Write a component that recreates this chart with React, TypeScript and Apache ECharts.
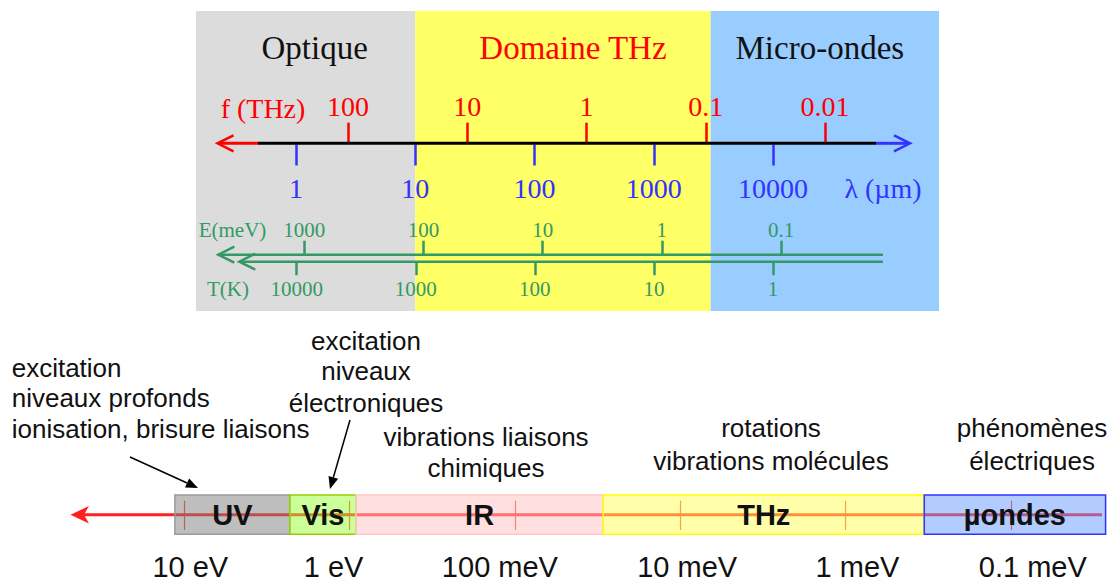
import React, { useEffect, useRef } from 'react';
import * as echarts from 'echarts';

// ---------- DATA ----------
// Top scales (tick values and their labels)
const FREQ_THZ = [100, 10, 1, 0.1, 0.01];
const FREQ_LABELS = ['100', '10', '1', '0.1', '0.01'];
const WAVELENGTH_UM = [1, 10, 100, 1000, 10000];
const WAVELENGTH_LABELS = ['1', '10', '100', '1000', '10000'];
const ENERGY_MEV = [1000, 100, 10, 1, 0.1];
const ENERGY_LABELS = ['1000', '100', '10', '1', '0.1'];
const TEMP_K = [10000, 1000, 100, 10, 1];
const TEMP_LABELS = ['10000', '1000', '100', '10', '1'];

// Top domains, bounded in wavelength (µm)
const DOMAIN_NAMES = ['Optique', 'Domaine THz', 'Micro-ondes'];
const DOMAIN_FROM_UM = [0.145, 10, 3000];
const DOMAIN_TO_UM = [10, 3000, 246600];

// Bottom scale: photon energy (meV)
const PHOTON_MEV = [10000, 1000, 100, 10, 1, 0.1];
const PHOTON_LABELS = ['10 eV', '1 eV', '100 meV', '10 meV', '1 meV', '0.1 meV'];

// Bottom spectral bands, bounded in photon energy (meV)
const BAND_NAMES = ['UV', 'Vis', 'IR', 'THz', 'µondes'];
const BAND_FROM_MEV = [11400, 2300, 915, 29.2, 0.334];
const BAND_TO_MEV = [2300, 915, 29.2, 0.334, 0.0267];

// Annotation texts
const NOTE_UV = ['excitation', 'niveaux profonds', 'ionisation, brisure liaisons'];
const NOTE_VIS = ['excitation', 'niveaux', 'électroniques'];
const NOTE_IR = ['vibrations liaisons', 'chimiques'];
const NOTE_THZ = ['rotations', 'vibrations molécules'];
const NOTE_MW = ['phénomènes', 'électriques'];

// ---------- STYLE ----------
const SERIF = '"Liberation Serif", "Times New Roman", serif';
const SANS = '"Liberation Sans", Arial, sans-serif';
const RED = '#ff0000';
const BLUE = '#3333ff';
const GREEN = '#339966';
const DOMAIN_FILL = ['#dcdcdc', '#ffff66', '#99ccff'];
const DOMAIN_TEXT = ['#111111', '#ff0000', '#111111'];
const DOMAIN_DX = [9, 10, -5];
const BAND_FILL = [
  'rgba(125,125,125,0.5)',
  'rgba(153,255,51,0.5)',
  'rgba(255,192,192,0.5)',
  'rgba(255,255,85,0.5)',
  'rgba(102,153,255,0.5)',
];
const BAND_STROKE = ['#9a9a9a', '#99cc00', '#ffc8c8', '#ffff00', '#3333ff'];
const PHOTON_NUDGE = [6, -16, -15, 7, 12, 22];

function labelFor(ticks: number[], labels: string[]) {
  return (v: number) => {
    let best = 0;
    let err = Infinity;
    ticks.forEach((t, i) => {
      const e = Math.abs(Math.log(v / t));
      if (e < err) {
        err = e;
        best = i;
      }
    });
    return err < 0.05 ? labels[best] : '';
  };
}

function arrow(x0: number, y0: number, tx: number, ty: number, z: number) {
  const dx = tx - x0;
  const dy = ty - y0;
  const len = Math.sqrt(dx * dx + dy * dy);
  const ux = dx / len;
  const uy = dy / len;
  const bx = tx - 12 * ux;
  const by = ty - 12 * uy;
  const px = -uy;
  const py = ux;
  return [
    { type: 'line', z, shape: { x1: x0, y1: y0, x2: bx, y2: by }, style: { stroke: '#000', lineWidth: 1.5 } },
    {
      type: 'polygon',
      z,
      shape: { points: [[tx, ty], [bx + 5 * px, by + 5 * py], [bx - 5 * px, by - 5 * py]] },
      style: { fill: '#000' },
    },
  ];
}

function textLines(lines: string[], x: number, ys: number[], align: string, z: number) {
  return lines.map((t, i) => ({
    type: 'text',
    z,
    x,
    y: ys[i],
    style: { text: t, font: `26px ${SANS}`, fill: '#111', align, verticalAlign: 'middle' },
  }));
}

function chevron(tx: number, ty: number, dir: number, color: string, z: number) {
  return {
    type: 'polyline',
    z,
    shape: { points: [[tx - dir * 16, ty - 8], [tx, ty], [tx - dir * 16, ty + 8]] },
    style: { stroke: color, lineWidth: 2.5, fill: null },
  };
}

function hLine(x1: number, x2: number, y: number, color: string, w: number, z: number) {
  return { type: 'line', z, shape: { x1, y1: y, x2, y2: y }, style: { stroke: color, lineWidth: w } };
}

function scaleAxis(
  gridIndex: number,
  min: number,
  max: number,
  inverse: boolean,
  position: string,
  color: string,
  tickLen: number,
  font: number,
  margin: number,
  ticks: number[],
  labels: string[],
) {
  return {
    type: 'log',
    logBase: 10,
    gridIndex,
    min,
    max,
    inverse,
    position,
    z: 5,
    axisLine: { show: false, onZero: false },
    splitLine: { show: false },
    minorTick: { show: false },
    axisTick: { show: true, inside: false, length: tickLen, lineStyle: { color, width: 2.5 } },
    axisLabel: {
      show: true,
      margin,
      color,
      fontFamily: SERIF,
      fontSize: font,
      showMinLabel: true,
      showMaxLabel: true,
      formatter: labelFor(ticks, labels),
    },
  };
}

export default function App() {
  const ref = useRef<HTMLDivElement>(null);

  useEffect(() => {
    if (!ref.current) return;
    const chart = echarts.init(ref.current, undefined, { renderer: 'svg' });

    const rich: any = {};
    PHOTON_NUDGE.forEach((n, i) => {
      rich['n' + i] = {
        fontFamily: SANS,
        fontSize: 29,
        color: '#111',
        padding: n > 0 ? [0, 0, 0, 2 * n] : [0, -2 * n, 0, 0],
      };
    });
    const photonLabel = labelFor(PHOTON_MEV, PHOTON_LABELS);

    const gridBase = { containLabel: false, outerBoundsMode: 'none', show: false };
    const grids = [
      { left: 296, width: 477, top: 11, height: 300 },
      { left: 348, width: 477, top: 143.3, height: 10 },
      { left: 296, width: 477, top: 134.5, height: 10 },
      { left: 304.3, width: 476.7, top: 254.7, height: 10 },
      { left: 296.7, width: 476.3, top: 251.7, height: 10 },
      { left: 184.3, width: 826.5, top: 495, height: 39.3 },
      { left: 184.3, width: 826.5, top: 500.7, height: 29.3 },
    ].map((g) => ({ ...gridBase, ...g }));

    const yAxes = grids.map((_, i) => ({ type: 'value', gridIndex: i, min: 0, max: 1, show: false }));

    const xAxes: any[] = [
      { type: 'log', logBase: 10, gridIndex: 0, min: 1, max: 10000, show: false },
      scaleAxis(1, 0.01, 100, true, 'top', RED, 20.6, 28, 23, FREQ_THZ, FREQ_LABELS),
      scaleAxis(2, 1, 10000, false, 'bottom', BLUE, 21, 28, 30, WAVELENGTH_UM, WAVELENGTH_LABELS),
      scaleAxis(3, 0.1, 1000, true, 'top', GREEN, 14, 21, 14, ENERGY_MEV, ENERGY_LABELS),
      scaleAxis(4, 1, 10000, true, 'bottom', GREEN, 13.5, 21, 17, TEMP_K, TEMP_LABELS),
      { type: 'log', logBase: 10, gridIndex: 5, min: 0.1, max: 10000, inverse: true, show: false },
      {
        type: 'log',
        logBase: 10,
        gridIndex: 6,
        min: 0.1,
        max: 10000,
        inverse: true,
        position: 'bottom',
        z: 2,
        axisLine: { show: false, onZero: false },
        axisTick: { show: false },
        minorTick: { show: false },
        splitLine: { show: true, lineStyle: { color: 'rgba(255,40,40,0.9)', width: 1.2 } },
        axisLabel: {
          show: true,
          margin: 22,
          showMinLabel: true,
          showMaxLabel: true,
          fontFamily: SANS,
          fontSize: 29,
          color: '#111',
          rich,
          formatter: (v: number) => {
            const t = photonLabel(v);
            const i = PHOTON_LABELS.indexOf(t);
            return i >= 0 ? `{n${i}|${t}}` : '';
          },
        },
      },
    ];

    const series: any[] = [
      {
        type: 'custom',
        xAxisIndex: 0,
        yAxisIndex: 0,
        z: 0,
        silent: true,
        encode: { x: [0, 1], y: 2 },
        data: DOMAIN_NAMES.map((_, i) => [DOMAIN_FROM_UM[i], DOMAIN_TO_UM[i], 0]),
        renderItem: (params: any, api: any) => {
          const i = params.dataIndex;
          const p0 = api.coord([api.value(0), 1]);
          const p1 = api.coord([api.value(1), 0]);
          return {
            type: 'group',
            children: [
              {
                type: 'rect',
                shape: { x: p0[0], y: p0[1], width: p1[0] - p0[0], height: p1[1] - p0[1] },
                style: { fill: DOMAIN_FILL[i] },
              },
              {
                type: 'text',
                x: (p0[0] + p1[0]) / 2 + DOMAIN_DX[i],
                y: p0[1] + 37,
                style: {
                  text: DOMAIN_NAMES[i],
                  fill: DOMAIN_TEXT[i],
                  font: `33px ${SERIF}`,
                  align: 'center',
                  verticalAlign: 'middle',
                },
              },
            ],
          };
        },
      },
      {
        type: 'custom',
        xAxisIndex: 5,
        yAxisIndex: 5,
        z: 3,
        silent: true,
        encode: { x: [0, 1], y: 2 },
        data: BAND_NAMES.map((_, i) => [BAND_FROM_MEV[i], BAND_TO_MEV[i], 0]),
        renderItem: (params: any, api: any) => {
          const i = params.dataIndex;
          const p0 = api.coord([api.value(0), 1]);
          const p1 = api.coord([api.value(1), 0]);
          return {
            type: 'group',
            children: [
              {
                type: 'rect',
                shape: { x: p0[0], y: p0[1], width: p1[0] - p0[0], height: p1[1] - p0[1] },
                style: { fill: BAND_FILL[i], stroke: BAND_STROKE[i], lineWidth: 1.5 },
              },
              {
                type: 'text',
                x: (p0[0] + p1[0]) / 2,
                y: (p0[1] + p1[1]) / 2,
                z2: 10,
                style: {
                  text: BAND_NAMES[i],
                  fill: '#111',
                  font: `bold 29px ${SANS}`,
                  align: 'center',
                  verticalAlign: 'middle',
                },
              },
            ],
          };
        },
      },
    ];

    const graphics: any[] = [
      // frequency / wavelength line
      hLine(219, 258, 143.3, RED, 3, 10),
      chevron(217.5, 143.3, -1, RED, 10),
      hLine(258, 876, 143.3, '#000', 3, 10),
      hLine(876, 908, 143.3, BLUE, 3, 10),
      chevron(910, 143.3, 1, BLUE, 10),
      {
        type: 'text', z: 10, x: 263, y: 108,
        style: { text: 'f (THz)', font: `28px ${SERIF}`, fill: RED, align: 'center', verticalAlign: 'middle' },
      },
      {
        type: 'text', z: 10, x: 883, y: 188,
        style: { text: 'λ (µm)', font: `28px ${SERIF}`, fill: BLUE, align: 'center', verticalAlign: 'middle' },
      },
      // energy / temperature lines
      hLine(220, 883, 254.7, GREEN, 2.5, 10),
      chevron(218.3, 254.7, -1, GREEN, 10),
      hLine(241, 883, 261.7, GREEN, 2.5, 10),
      chevron(239.3, 261.7, -1, GREEN, 10),
      {
        type: 'text', z: 10, x: 232.5, y: 230,
        style: { text: 'E(meV)', font: `21px ${SERIF}`, fill: GREEN, align: 'center', verticalAlign: 'middle' },
      },
      {
        type: 'text', z: 10, x: 228, y: 289,
        style: { text: 'T(K)', font: `21px ${SERIF}`, fill: GREEN, align: 'center', verticalAlign: 'middle' },
      },
      // bottom energy line
      hLine(80, 1102, 514.7, '#ff2020', 3, 1),
      {
        type: 'polygon', z: 1,
        shape: { points: [[70.5, 514.7], [89, 506], [84, 514.7], [89, 523.4]] },
        style: { fill: '#ff2020' },
      },
      ...textLines(NOTE_UV, 11.7, [367.7, 398, 429], 'left', 10),
      ...textLines(NOTE_VIS, 366, [341, 371, 402.7], 'center', 10),
      ...textLines(NOTE_IR, 486, [437, 468], 'center', 10),
      ...textLines(NOTE_THZ, 771, [427.7, 461], 'center', 10),
      ...textLines(NOTE_MW, 1032, [427.7, 461], 'center', 10),
      ...arrow(130, 457, 198, 488, 10),
      ...arrow(350, 420, 330, 489, 10),
    ];

    chart.setOption({
      animation: false,
      backgroundColor: '#ffffff',
      grid: grids,
      xAxis: xAxes,
      yAxis: yAxes,
      series,
      graphic: { elements: graphics },
    });

    return () => chart.dispose();
  }, []);

  return (
    <div
      ref={ref}
      style={{ position: 'fixed', left: 0, top: 0, width: 1120, height: 582, background: '#fff' }}
    />
  );
}
